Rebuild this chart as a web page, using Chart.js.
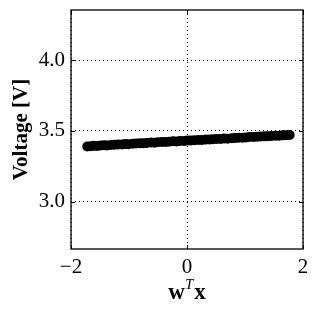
<!DOCTYPE html>
<html><head><meta charset="utf-8">
<script src="https://cdn.jsdelivr.net/npm/chart.js@4"></script>
<style>html,body{margin:0;padding:0;background:#fff}#wrap{width:319px;height:314px}</style>
</head><body><div id="wrap"><canvas id="c" width="319" height="314"></canvas></div>
<script>
const xValues = [-1.72,-1.66,-1.61,-1.55,-1.49,-1.43,-1.38,-1.31,-1.25,-1.19,-1.12,-1.06,-1.01,-0.94,-0.88,-0.81,-0.75,-0.69,-0.62,-0.56,-0.50,-0.43,-0.37,-0.31,-0.24,-0.18,-0.12,-0.05,0.01,0.07,0.13,0.20,0.26,0.32,0.39,0.45,0.51,0.58,0.64,0.70,0.77,0.83,0.89,0.96,1.02,1.08,1.15,1.21,1.27,1.34,1.40,1.46,1.53,1.59,1.65,1.71,1.77];
const yValues = [3.389,3.392,3.394,3.393,3.396,3.398,3.397,3.400,3.402,3.403,3.404,3.407,3.406,3.409,3.410,3.412,3.413,3.414,3.417,3.416,3.419,3.421,3.422,3.423,3.426,3.425,3.428,3.429,3.431,3.432,3.433,3.436,3.435,3.438,3.439,3.441,3.442,3.443,3.446,3.445,3.448,3.449,3.451,3.452,3.453,3.456,3.456,3.458,3.460,3.461,3.462,3.464,3.465,3.466,3.468,3.469,3.471];
const xTicks = [-2, 0, 2];
const yTicks = [3.0, 3.5, 4.0];
const xRange = [-2, 2];
const yRange = [2.665, 4.354];

const points = xValues.map((x,i)=>({x:x,y:yValues[i]}));
const SERIF = '"Liberation Serif", "DejaVu Serif", serif';

const frame = {
  id:'frame',
  afterDraw(chart){
    const {ctx, chartArea:a, scales} = chart;
    ctx.save();
    ctx.strokeStyle='#000'; ctx.lineWidth=1.3;
    ctx.strokeRect(a.left, a.top, a.right-a.left, a.bottom-a.top);
    ctx.lineWidth=1;
    const L=4;
    xTicks.forEach(v=>{const p=Math.round(scales.x.getPixelForValue(v))+0.5;
      ctx.beginPath();ctx.moveTo(p,a.bottom);ctx.lineTo(p,a.bottom-L);ctx.moveTo(p,a.top);ctx.lineTo(p,a.top+L);ctx.stroke();});
    yTicks.forEach(v=>{const p=Math.round(scales.y.getPixelForValue(v))+0.5;
      ctx.beginPath();ctx.moveTo(a.left,p);ctx.lineTo(a.left+L,p);ctx.moveTo(a.right,p);ctx.lineTo(a.right-L,p);ctx.stroke();});
    ctx.fillStyle='#000';
    ctx.textBaseline='alphabetic';
    const cx=(a.left+a.right)/2, by=299;
    const fb='bold 23px '+SERIF, fi='italic 15px '+SERIF;
    ctx.font=fb; const ww=ctx.measureText('w').width; const wx=ctx.measureText('x').width;
    ctx.font=fi; const wt=ctx.measureText('T').width;
    const tot=ww+wt+1+wx; let sx=cx-tot/2;
    ctx.textAlign='left';
    ctx.font=fb; ctx.fillText('w',sx,by);
    ctx.font=fi; ctx.fillText('T',sx+ww,by-10);
    ctx.font=fb; ctx.fillText('x',sx+ww+wt+1,by);
    ctx.save();
    ctx.translate(27,(a.top+a.bottom)/2);
    ctx.rotate(-Math.PI/2);
    ctx.textAlign='center';
    ctx.font='bold 21px '+SERIF;
    ctx.fillText('Voltage [V]',0,0);
    ctx.restore();
    ctx.restore();
  }
};

new Chart(document.getElementById('c'),{
  type:'scatter',
  data:{datasets:[{data:points,backgroundColor:'#000',borderColor:'#000',pointRadius:5,pointHoverRadius:5,borderWidth:0}]},
  options:{
    responsive:false,animation:false,
    layout:{padding:{left:0,right:16,top:10,bottom:0}},
    plugins:{legend:{display:false},tooltip:{enabled:false}},
    scales:{
      x:{type:'linear',min:xRange[0],max:xRange[1],
        afterBuildTicks:s=>{s.ticks=xTicks.map(v=>({value:v}));},
        afterFit:s=>{s.height=65;s.paddingLeft=0;s.paddingRight=0;},
        grid:{color:'#000',lineWidth:1,drawTicks:false,tickLength:0},
        border:{display:false,dash:[1,3]},
        ticks:{padding:6,color:'#000',font:{family:SERIF,size:21},maxRotation:0,
          callback:v=>v<0?'\u2212'+Math.abs(v):String(v)}},
      y:{type:'linear',min:yRange[0],max:yRange[1],
        afterBuildTicks:s=>{s.ticks=yTicks.map(v=>({value:v}));},
        afterFit:s=>{s.width=71;s.paddingTop=0;s.paddingBottom=0;},
        grid:{color:'#000',lineWidth:1,drawTicks:false,tickLength:0},
        border:{display:false,dash:[1,3]},
        ticks:{padding:6,color:'#000',font:{family:SERIF,size:21},
          callback:v=>Number(v).toFixed(1)}}
    }
  },
  plugins:[frame]
});
</script></body></html>
